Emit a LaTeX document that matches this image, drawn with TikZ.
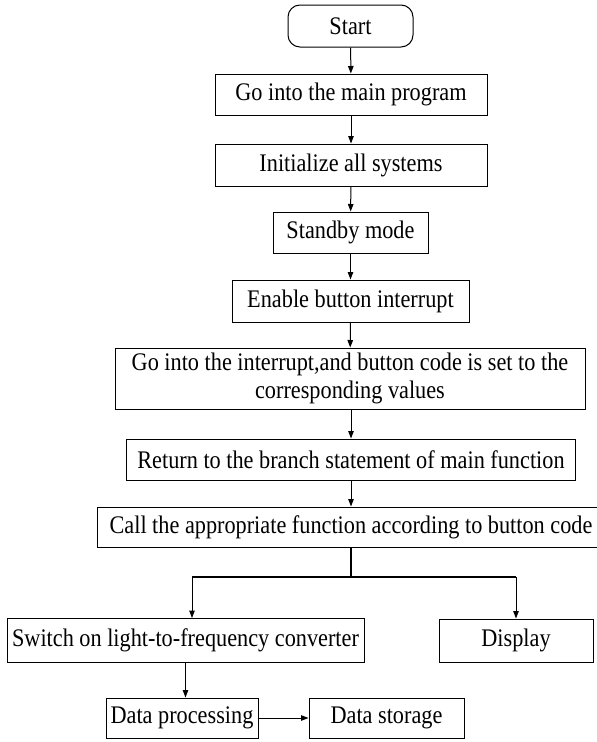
\documentclass[tikz,border=0pt]{standalone}
\usepackage{fontspec}
\setmainfont{Liberation Serif}[FakeStretch=0.88]
\usetikzlibrary{arrows.meta}
\begin{document}
\begin{tikzpicture}[x=1pt,y=-1pt,
 box/.style={draw, line width=1pt, inner sep=0pt, align=center, font=\fontsize{25.3}{28}\selectfont},
 arr/.style={-{Triangle[length=7.5pt,width=5.5pt]}, line width=1pt},
 lin/.style={line width=1.4pt}]
\useasboundingbox (0,0) rectangle (597,742);
\fill[white] (0,0) rectangle (597,742);
\node[box, minimum width=125pt, minimum height=42pt, rounded corners=12pt] (start) at (350.5,26) {Start};
\node[box, minimum width=272pt, minimum height=41pt] (main) at (351,94.5) {Go into the main program};
\node[box, minimum width=272pt, minimum height=42pt] (init) at (351,165) {Initialize all systems};
\node[box, minimum width=155pt, minimum height=41pt] (standby) at (350.5,232.5) {Standby mode};
\node[box, minimum width=237pt, minimum height=42pt] (enable) at (350.5,301) {Enable button interrupt};
\node[box, minimum width=470pt, minimum height=61pt] (intr) at (350,378.5) {Go into the interrupt,and button code is set to the\\corresponding values};
\node[box, minimum width=449pt, minimum height=41pt] (ret) at (351,459.5) {Return to the branch statement of main function};
\node[box, minimum width=508pt, minimum height=40pt] (call) at (351,527) {Call the appropriate function according to button code};
\node[box, minimum width=357pt, minimum height=44pt] (switch) at (185.5,640.5) {Switch on light-to-frequency converter};
\node[box, minimum width=154pt, minimum height=43pt] (disp) at (516,640.5) {Display};
\node[box, minimum width=152pt, minimum height=40pt] (dp) at (182,718) {Data processing};
\node[box, minimum width=155pt, minimum height=40pt] (ds) at (386.5,718) {Data storage};
\draw[arr] (start) -- (main);
\draw[arr] (main) -- (init);
\draw[arr] (init) -- (standby);
\draw[arr] (standby) -- (enable);
\draw[arr] (enable) -- (intr);
\draw[arr] (intr.south -| ret.north) -- (ret.north);
\draw[arr] (ret) -- (call);
\coordinate (j) at (351,577);
\coordinate (jl) at (192,577);
\draw[lin] (call.south) -- (j);
\draw[lin] (jl) -- (disp.north |- j);
\draw[arr] (jl) -- (jl |- switch.north);
\draw[arr] (disp.north |- j) -- (disp.north);
\draw[arr] (switch.south) -- (switch.south |- dp.north);
\draw[arr] (dp) -- (ds);
\end{tikzpicture}
\end{document}
